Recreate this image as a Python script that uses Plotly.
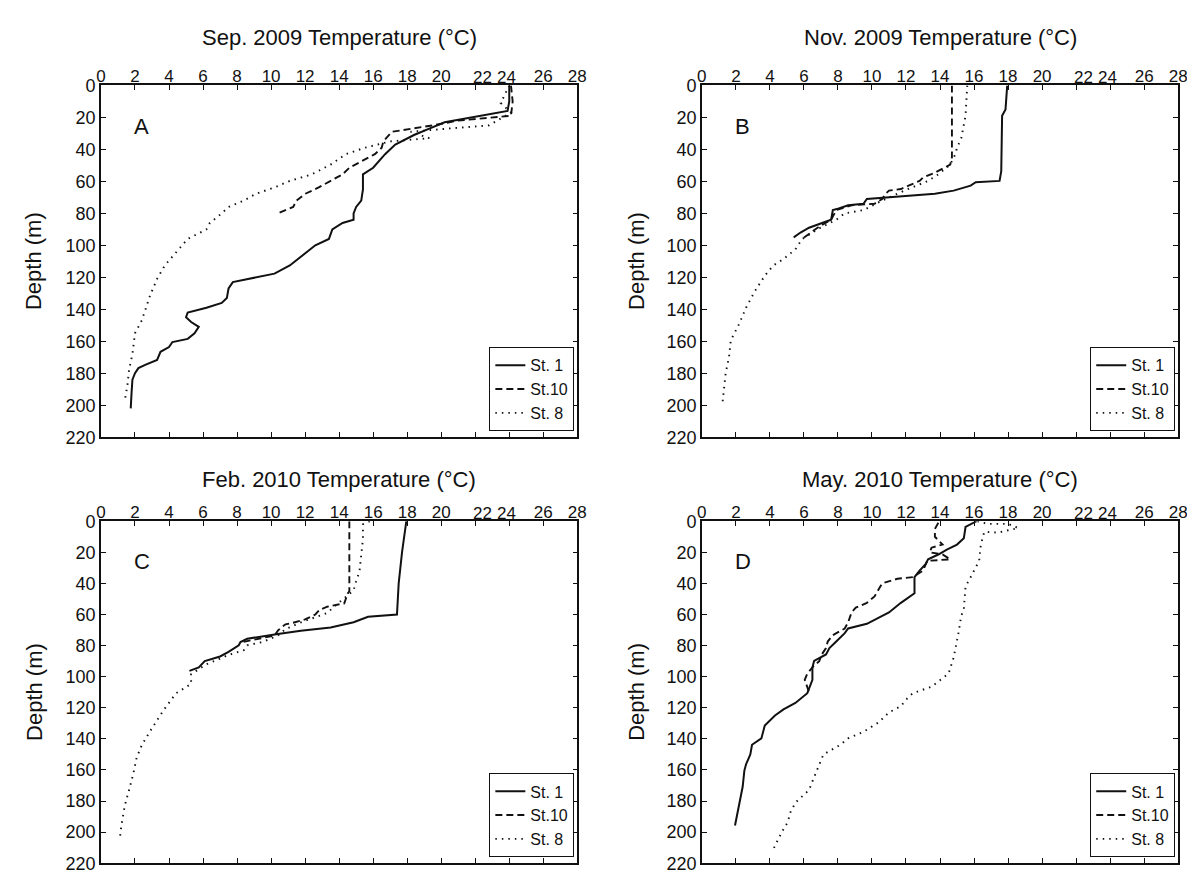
import plotly.graph_objects as go

# ---------------- data (temperature °C, depth m) ----------------
x_tick_values = [0, 2, 4, 6, 8, 10, 12, 14, 16, 18, 20, 22, 24, 26, 28]
x_tick_labels = ["0", "2", "4", "6", "8", "10", "12", "14", "16", "18", "20", "", "", "26", "28"]
x_crowded_labels = ["22", "24"]          # labels drawn slightly displaced, as in the original figure
x_crowded_positions = [22.45, 23.85]
y_tick_values = [0, 20, 40, 60, 80, 100, 120, 140, 160, 180, 200, 220]
y_tick_labels = ["0", "20", "40", "60", "80", "100", "120", "140", "160", "180", "200", "220"]
station_names = ["St. 1", "St.10", "St. 8"]
panel_titles = ["Sep. 2009 Temperature (°C)", "Nov. 2009 Temperature (°C)",
                "Feb. 2010 Temperature (°C)", "May. 2010 Temperature (°C)"]
panel_letters = ["A", "B", "C", "D"]

# Panel A (Sep. 2009)
a_st1_t = [24.0, 24.0, 23.9, 22.2, 20.2, 19.3, 18.4, 17.3, 16.7, 16.0, 15.4, 15.4, 15.3, 15.0, 14.85, 14.85,
           14.2, 13.6, 13.4, 12.6, 11.85, 11.1, 10.2, 8.6, 7.75, 7.5, 7.4, 7.1, 6.2, 5.1, 5.0, 5.3, 5.75, 5.5,
           5.1, 4.2, 4.0, 3.5, 3.3, 2.6, 2.2, 2.0, 1.85, 1.8, 1.75]
a_st1_d = [0, 10, 16, 19, 23, 27, 31, 37, 43, 51.5, 55.6, 65, 72, 76, 80, 84, 86, 90, 96, 100, 106.5, 112.6,
           117.7, 121, 123, 127, 133, 136, 139, 142, 145, 148, 151, 155, 158.5, 160.5, 163.6, 166.6, 171.7,
           174.8, 176.8, 180, 184, 192, 202]
a_st10_t = [24.1, 24.2, 24.1, 21.0, 19.5, 18.2, 17.1, 16.6, 16.5, 16.1, 15.3, 14.6, 14.2, 13.5, 12.8, 12.0,
            11.5, 11.3, 10.6, 10.4]
a_st10_d = [0, 10, 19, 22, 25, 27, 29, 35, 39, 43, 47.5, 51.5, 55.6, 59.7, 63.8, 67.8, 72, 76, 79, 80]
a_st8_t = [24.0, 23.5, 24.1, 22.8, 20.4, 18.2, 19.3, 17.0, 15.5, 14.4, 13.5, 12.4, 11.1, 10.2, 9.1, 8.4, 7.5,
           7.1, 6.4, 6.2, 5.1, 4.4, 3.75, 3.3, 2.9, 2.65, 2.4, 2.0, 1.85, 1.65, 1.55, 1.4]
a_st8_d = [0, 11, 17, 25, 27, 29, 33, 35, 39, 43, 49.5, 55.6, 59.7, 63.8, 67.8, 72, 76, 80, 86, 90, 96, 104.5,
           112.6, 121, 131, 139, 147, 155, 168, 178, 188, 197]

# Panel B (Nov. 2009)
b_st1_t = [17.95, 17.85, 17.65, 17.6, 17.5, 16.1, 15.8, 14.8, 13.7, 11.5, 9.7, 9.5, 8.6, 8.05, 7.7, 7.6, 7.05,
           6.3, 5.8, 5.4]
b_st1_d = [0, 15, 19, 53.6, 59.7, 60.5, 62.7, 65.8, 67.8, 69.5, 71, 74, 75, 77, 78, 84, 86, 89, 92, 95]
b_st10_t = [14.7, 14.7, 14.6, 13.7, 13.0, 12.8, 12.15, 11.7, 11.0, 10.8, 10.6, 10.15, 8.8, 7.9, 7.6, 6.8, 5.9]
b_st10_d = [0, 45, 49.5, 54.6, 57.6, 59.7, 62.7, 64.8, 65.8, 67.8, 71, 74, 75, 78, 84, 89, 96]
b_st8_t = [15.6, 15.5, 15.25, 15.0, 14.9, 14.6, 13.9, 13.3, 11.9, 10.6, 9.5, 8.4, 7.9, 6.8, 5.9, 5.5, 4.8, 4.2,
           3.7, 3.1, 2.6, 2.2, 1.7, 1.6, 1.4, 1.3, 1.2]
b_st8_d = [0, 19, 33, 39, 43, 49.5, 55.6, 59.7, 65.8, 72, 78, 80, 84, 90, 96, 102.5, 108.6, 112.6, 119, 129,
           139, 149, 159.5, 169.7, 180, 190, 200]

# Panel C (Feb. 2010)
c_st1_t = [17.95, 17.7, 17.5, 17.45, 17.4, 15.7, 14.85, 13.5, 11.75, 10.4, 9.3, 8.6, 8.2, 8.1, 7.5, 7.0, 6.1,
           5.75, 5.2]
c_st1_d = [0, 19.7, 40, 57, 60, 61.5, 65, 68.4, 70.4, 72.5, 74.6, 75.6, 77.7, 79.8, 84, 87, 90, 94, 96.3]
c_st10_t = [14.6, 14.6, 14.5, 14.3, 13.3, 12.85, 12.6, 12.0, 11.3, 10.85, 10.6, 10.4, 10.2, 9.0, 8.2]
c_st10_d = [0, 45, 46.6, 52.8, 55, 57, 60, 63.2, 65.3, 66.3, 68.4, 70.4, 73.5, 76, 78]
c_st8_t = [15.8, 15.4, 15.4, 15.3, 15.2, 14.95, 14.85, 13.7, 13.3, 11.7, 10.85, 10.4, 9.5, 8.6, 8.4, 7.5, 6.2,
           5.3, 5.3, 4.4, 4.0, 3.65, 2.85, 2.4, 2.1, 1.9, 1.65, 1.4, 1.2, 1.1]
c_st8_d = [0, 2, 11.4, 21.8, 32, 40.4, 44.5, 55, 59, 65.3, 69.4, 73.5, 77.7, 79.8, 82.9, 86, 92, 98.4, 104.6,
           110.8, 117, 122, 135.7, 144, 152, 162.6, 173, 183, 195.8, 205]

# Panel D (May. 2010)
d_st1_t = [16.15, 15.5, 15.4, 15.0, 14.4, 13.9, 13.3, 13.15, 12.8, 12.5, 12.5, 11.7, 11.0, 10.0, 9.7, 8.6, 8.4,
           7.9, 7.5, 7.3, 6.6, 6.5, 6.5, 6.2, 5.5, 4.8, 4.3, 3.7, 3.6, 3.5, 2.95, 2.85, 2.6, 2.5, 2.4, 2.2, 1.95]
d_st1_d = [0, 3.7, 11, 15, 18.3, 21.4, 24.5, 27.6, 31.8, 36, 46.3, 52.5, 58.7, 64, 66, 69, 72, 77.4, 81.6, 85.7,
           89.9, 94, 102, 110.6, 116.9, 121, 125, 131.4, 135.5, 139.7, 143.8, 150, 156.3, 160.4, 170.8, 181, 195.7]
d_st10_t = [13.9, 13.7, 13.7, 14.0, 14.15, 13.5, 13.4, 14.15, 14.6, 13.25, 13.0, 12.4, 11.5, 10.6, 10.4, 10.15,
            9.7, 9.05, 8.8, 8.6, 8.4, 7.7, 7.4, 7.3, 7.05, 6.9, 6.5, 6.2, 6.05, 6.2, 6.3]
d_st10_d = [1, 5, 10, 13, 15, 17, 20, 21.4, 24.5, 25.5, 31.8, 36, 37, 40, 44, 48.4, 52.5, 55.6, 58.7, 65, 69,
            73.3, 77.4, 81.6, 85.7, 90, 94, 98, 102, 106.5, 110]
d_st8_t = [16.2, 16.8, 18.0, 18.6, 17.4, 16.6, 16.4, 16.3, 15.8, 15.5, 15.4, 15.25, 15.1, 15.0, 14.8, 14.5, 14.0,
           13.5, 12.4, 12.0, 11.7, 11.0, 10.4, 9.5, 8.6, 8.15, 7.15, 6.9, 6.6, 6.3, 5.5, 5.2, 5.05, 4.7, 4.3, 4.2]
d_st8_d = [0, 1.7, 1.7, 4.4, 7.3, 6.8, 15, 25.5, 36, 42, 56.7, 60.8, 71, 77.4, 87.8, 98, 102, 106.5, 110.6,
           114.8, 119, 123, 129.3, 135.5, 139.7, 143.8, 150, 156.3, 164.6, 172.9, 181, 187.4, 193.6, 200, 208, 211]

panels = [
    [(a_st1_t, a_st1_d), (a_st10_t, a_st10_d), (a_st8_t, a_st8_d)],
    [(b_st1_t, b_st1_d), (b_st10_t, b_st10_d), (b_st8_t, b_st8_d)],
    [(c_st1_t, c_st1_d), (c_st10_t, c_st10_d), (c_st8_t, c_st8_d)],
    [(d_st1_t, d_st1_d), (d_st10_t, d_st10_d), (d_st8_t, d_st8_d)],
]

# ---------------- layout geometry (pixels) ----------------
W, H = 1195, 875
boxes = [(89, 571, 69, 429), (697, 1179, 69, 429), (89, 571, 515, 865), (697, 1179, 515, 865)]
title_y = [20, 20, 472, 472]
ytitle_x = [21, 631, 21, 631]
FONT = "Liberation Sans, Arial, Helvetica, sans-serif"
INK = "#111111"
dashes = ["solid", "7px,4px", "1.5px,5px"]
widths = [2.0, 1.9, 1.9]

fig = go.Figure()
layout = dict(
    width=W, height=H, margin=dict(l=0, r=0, t=0, b=0),
    paper_bgcolor="white", plot_bgcolor="white",
    font=dict(family=FONT, size=18, color=INK),
    annotations=[],
)

for i, (series, box) in enumerate(zip(panels, boxes)):
    k = "" if i == 0 else str(i + 1)
    l, r, t, b = box
    leg = "legend" if i == 0 else f"legend{i + 1}"
    for j, (tt, dd) in enumerate(series):
        fig.add_trace(go.Scatter(
            x=tt, y=dd, mode="lines", name=station_names[j],
            line=dict(color=INK, width=widths[j], dash=dashes[j]),
            xaxis="x" + k, yaxis="y" + k, legend=leg, showlegend=True,
        ))
    axis_common = dict(showline=True, linecolor=INK, linewidth=1.5, mirror="allticks",
                       ticks="inside", ticklen=5, tickwidth=1.3, tickcolor=INK,
                       showgrid=False, zeroline=False)
    layout["xaxis" + k] = dict(domain=[l / W, r / W], anchor="y" + k, range=[0, 28], side="top",
                               tickmode="array", tickvals=x_tick_values, ticktext=x_tick_labels,
                               tickfont=dict(size=17, family=FONT, color=INK), ticklabelstandoff=-5,
                               **axis_common)
    layout["yaxis" + k] = dict(domain=[1 - b / H, 1 - t / H], anchor="x" + k, range=[220, 0],
                               tickmode="array", tickvals=y_tick_values, ticktext=y_tick_labels,
                               tickfont=dict(size=18, family=FONT, color=INK),
                               **axis_common)
    layout[leg] = dict(x=(r - 3) / W, y=1 - (b - 6) / H, xanchor="right", yanchor="bottom",
                       bordercolor=INK, borderwidth=1, bgcolor="white",
                       font=dict(size=16, family=FONT, color=INK), tracegroupgap=0,
                       itemwidth=30)
    cx = (l + r) / 2 / W
    layout["annotations"] += [
        dict(text=panel_titles[i], xref="paper", yref="paper", x=cx, y=1 - title_y[i] / H,
             xanchor="center", yanchor="middle", showarrow=False, font=dict(size=22, family=FONT, color=INK)),
        dict(text="Depth (m)", xref="paper", yref="paper", x=ytitle_x[i] / W, y=1 - (t + b) / 2 / H,
             textangle=-90, xanchor="center", yanchor="middle", showarrow=False,
             font=dict(size=22, family=FONT, color=INK)),
        dict(text=panel_letters[i], xref="x" + k, yref="y" + k, x=2.4, y=26, showarrow=False,
             xanchor="center", yanchor="middle", font=dict(size=22, family=FONT, color=INK)),
    ]
    for lab, pos in zip(x_crowded_labels, x_crowded_positions):
        layout["annotations"].append(
            dict(text=lab, xref="x" + k, yref="y" + k + " domain", x=pos, y=1, yshift=-4,
                 xanchor="center", yanchor="bottom", showarrow=False,
                 font=dict(size=17, family=FONT, color=INK)))

fig.update_layout(**layout)
fig.write_html("out.html")
